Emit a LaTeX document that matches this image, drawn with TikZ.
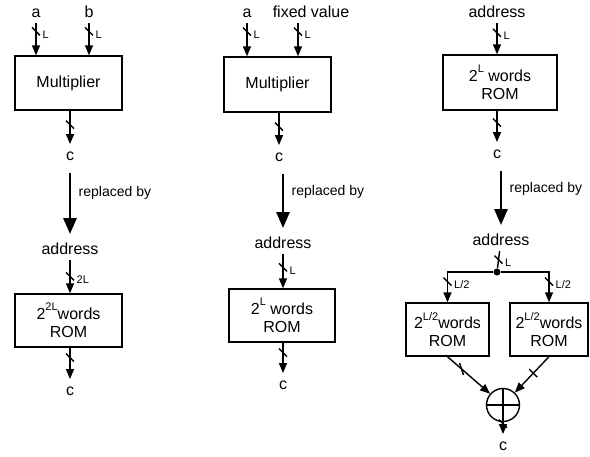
\documentclass[tikz,border=0pt]{standalone}
\usepackage{fontspec}
\setmainfont{Liberation Sans}
\usetikzlibrary{arrows.meta}
\newcommand{\supx}[1]{\raisebox{.55em}{\fontsize{11}{11}\selectfont #1}}

\begin{document}
\begin{tikzpicture}[x=1pt,y=-1pt,
    lbl/.style={font=\fontsize{16}{18}\selectfont, inner sep=5pt, text height=11.5pt, text depth=0pt},
    box/.style={draw, line width=1.4pt, align=center, inner sep=0pt, font=\fontsize{16}{18}\selectfont},
    bus/.style={line width=1.4pt, -{Triangle[length=10pt,width=8pt]}},
    big/.style={line width=2.8pt, -{Triangle[length=16pt,width=13pt]}, shorten <=7pt, shorten >=4pt},
    rl/.style={pos=.38, anchor=west, xshift=4pt, font=\fontsize{14}{16}\selectfont},
    small/.style={font=\fontsize{11}{12}\selectfont, inner sep=0pt},
    dot/.style={circle, fill, inner sep=0pt, minimum size=7pt},
    sum/.style={circle, draw, line width=1.4pt, inner sep=0pt, minimum size=33pt},
    tick/.pic={\draw[-, line width=1.4pt] (-4,-4) -- (4,4);},
    ltick/.pic={\draw[-, line width=1.4pt] (-2,-6) -- (2,6);},
    tickL/.pic={\draw[-, line width=1.4pt] (-4,-4) -- (4,4);
                \node[small, anchor=west] at (6,3) {#1};}]
    \useasboundingbox (0,0) rectangle (590,456);

    \node[lbl] (a1) at (36,12) {a};
    \node[lbl] (b1) at (89,12) {b};
    \node[box, minimum width=107pt, minimum height=54pt] (mul1) at (68.5,83) {Multiplier};
    \node[lbl] (c1) at (70,155) {c};
    \node[lbl] (ad1) at (70,249) {address};
    \node[box, minimum width=107pt, minimum height=53pt] (rom1) at (68.5,320.5) {2\supx{2L}words\\ROM};
    \node[lbl] (d1) at (70,390) {c};
    \draw[bus] (a1) -- pic[pos=.26]{tickL=L} (a1 |- mul1.north);
    \draw[bus] (b1) -- pic[pos=.26]{tickL=L} (b1 |- mul1.north);
    \draw[bus] (c1 |- mul1.south) -- pic[pos=.42]{tick} (c1);
    \draw[bus] (ad1) -- pic[pos=.49]{tickL=2L} (ad1 |- rom1.north);
    \draw[bus] (d1 |- rom1.south) -- pic[pos=.32]{tick} (d1);

    \node[lbl] (a2) at (247,12) {a};
    \node[lbl] (fv2) at (311,12) {fixed value};
    \node[box, minimum width=107pt, minimum height=55pt] (mul2) at (277.5,84.5) {Multiplier};
    \node[lbl] (c2) at (279,156) {c};
    \node[lbl] (ad2) at (283,243) {address};
    \node[box, minimum width=106pt, minimum height=53pt] (rom2) at (282,315.5) {2\supx{L}\ words\\ROM};
    \node[lbl] (d2) at (283,384) {c};
    \draw[bus] (a2) -- pic[pos=.26]{tickL=L} (a2 |- mul2.north);
    \draw[bus] ([xshift=-13pt]fv2.south) -- pic[pos=.26]{tickL=L} ([xshift=-13pt]fv2.south |- mul2.north);
    \draw[bus] (c2 |- mul2.south) -- pic[pos=.43]{tick} (c2);
    \draw[bus] (ad2) -- pic[pos=.39]{tickL=L} (ad2 |- rom2.north);
    \draw[bus] (d2 |- rom2.south) -- pic[pos=.33]{tick} (d2);

    \node[lbl] (ad0) at (497,12) {address};
    \node[box, minimum width=114pt, minimum height=55pt] (rom0) at (500,82.5) {2\supx{L}\ words\\ROM};
    \node[lbl] (c3) at (497,153) {c};
    \node[lbl] (ad3) at (501,240) {address};
    \node[dot] (jn) at (497,272) {};
    \node[box, minimum width=83pt, minimum height=53pt] (romL) at (447.5,329.5) {2\supx{L/2}words\\ROM};
    \node[box, minimum width=78pt, minimum height=53pt] (romR) at (549,329.5) {2\supx{L/2}words\\ROM};
    \node[sum] (sum) at (503,405) {};
    \node[lbl] (d3) at (503,445) {c};
    \draw[bus] (ad0) -- pic[pos=.32]{tickL=L} (ad0 |- rom0.north);
    \draw[bus] (c3 |- rom0.south) -- pic[pos=.38]{tick} (c3);
    \draw[line width=1.4pt] (ad3) -- pic[pos=.5]{tickL=L} (jn);
    \draw[bus] (jn) -| pic[pos=.66]{tickL=L/2} (romL.north);
    \draw[bus] (jn) -| pic[pos=.66]{tickL=L/2} (romR.north);
    \draw[bus] (romL.south) -- pic[pos=.33]{ltick} (sum);
    \draw[bus] (romR.south) -- pic[pos=.46]{tick} (sum);
    \draw[bus] (sum) -- pic[pos=.12]{tick} (d3);
    \draw[line width=1.4pt] (sum.north) -- (sum.south) (sum.west) -- (sum.east);

    \foreach \i in {1,2,3}
    \draw[big] (ad\i |- c\i.south) -- node[rl]{replaced by} (ad\i);
\end{tikzpicture}
\end{document}
